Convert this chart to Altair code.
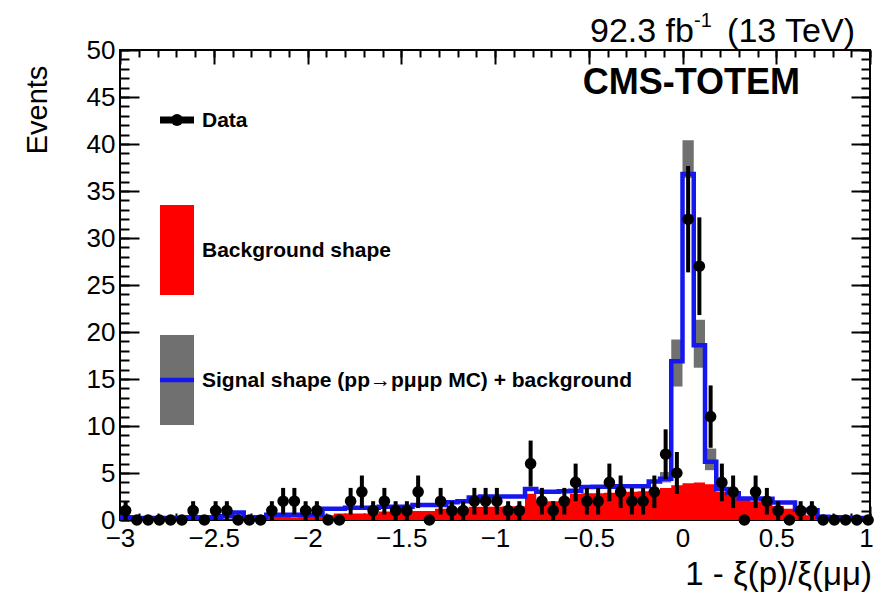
import math
import altair as alt
import pandas as pd

# ---------------- data ----------------
x_start = -3.0
bin_width = 0.06

data_counts = [1, 0, 0, 0, 0, 0, 1, 0, 1, 1, 0, 0, 0, 1, 2, 2, 1, 1, 0, 0, 2, 3, 1, 2, 1,
               1, 3, 0, 2, 1, 1, 2, 2, 2, 1, 1, 6, 2, 1, 2, 4, 2, 2, 4, 3, 2, 2, 3, 7, 5,
               32, 27, 11, 4, 3, 0, 3, 2, 1, 0, 1, 1, 0, 0, 0, 0, 0]

total_shape = [0.3, 0.2, 0.2, 0.2, 0.2, 0.2, 0.3, 0.3, 0.3,
               0.4, 0.8, 0.3, 0.3,
               0.55, 0.55, 0.55, 0.5, 0.5,
               1.2, 1.2, 1.3, 1.3, 1.3, 1.4, 1.4, 1.4, 1.6, 1.6, 1.6,
               1.9, 2.0, 2.4, 2.5, 2.5, 2.5, 2.5, 3.3,
               3.0, 3.0, 3.05, 3.1, 3.5, 3.55, 3.55, 3.6, 3.6, 3.6,
               4.1, 4.4, 16.9, 36.8, 18.6, 6.2, 3.3, 2.85, 2.3, 2.3, 2.25,
               1.85, 1.85, 1.1, 1.05, 0.35, 0.3, 0.25, 0.2, 0.2]

bkg_shape = [0.05, 0.05, 0.05, 0.05, 0.05, 0.05, 0.05, 0.05, 0.05, 0.05, 0.05, 0.05, 0.05,
             0.4, 0.4, 0.3, 0.3, 0.3,
             0.5, 0.7, 0.7, 0.7, 0.7,
             0.9, 0.9, 0.9, 0.95, 0.95,
             1.2, 1.2, 1.25,
             1.4, 1.4, 1.4, 1.45, 1.45,
             2.8, 1.95, 2.0, 2.3,
             2.8, 2.85, 2.85, 2.9, 3.0, 3.0, 3.05,
             3.2, 3.4, 3.7, 3.9, 4.0, 3.8, 3.0, 2.6, 2.2, 2.0, 1.8,
             1.5, 1.2, 0.9, 0.5, 0.3, 0.2, 0.1, 0.1, 0.05]

band_bins = [48, 49, 50, 51, 52]
band_lo = [4.0, 14.2, 36.4, 16.2, 5.3]
band_hi = [5.1, 19.2, 40.4, 21.3, 7.6]

x_major = [-3, -2.5, -2, -1.5, -1, -0.5, 0, 0.5, 1]
x_minor = [round(-3 + 0.1 * i, 2) for i in range(41)]
y_major = [0, 5, 10, 15, 20, 25, 30, 35, 40, 45, 50]
y_minor = list(range(51))

# ---------------- tables ----------------
n = len(data_counts)
edges = [round(x_start + bin_width * i, 2) for i in range(n + 1)]
centers = [round(x_start + bin_width * (i + 0.5), 3) for i in range(n)]

hist = pd.DataFrame({"x": edges,
                     "total": total_shape + [total_shape[-1]],
                     "bkg": bkg_shape + [bkg_shape[-1]]})
pts = pd.DataFrame({"x": centers, "n": data_counts})
pts["lo"] = [c - math.sqrt(c) for c in data_counts]
pts["hi"] = [c + math.sqrt(c) for c in data_counts]
bars = pts[pts["n"] > 0]
band = pd.DataFrame({"x1": [edges[i] for i in band_bins],
                     "x2": [edges[i + 1] for i in band_bins],
                     "lo": band_lo, "hi": band_hi})

W, H = 750, 470
FONT = "Liberation Sans"
xs = alt.Scale(domain=[-3, 1], nice=False, zero=False)
ys = alt.Scale(domain=[0, 50], nice=False, zero=False)
BLUE = "#1616ee"
RED = "#ff0000"
GREY = "#707070"

red = alt.Chart(hist).mark_area(interpolate="step-after", color=RED, clip=True).encode(
    x=alt.X("x:Q", scale=xs, axis=None),
    y=alt.Y("bkg:Q", scale=ys, axis=None),
    y2=alt.datum(0))

grey = alt.Chart(band).mark_rect(color=GREY).encode(
    x=alt.X("x1:Q", scale=xs, axis=None), x2="x2:Q",
    y=alt.Y("lo:Q", scale=ys, axis=None), y2="hi:Q")

blue = alt.Chart(hist).mark_line(interpolate="step-after", color=BLUE, strokeWidth=4.5,
                                 clip=True, strokeJoin="miter").encode(
    x=alt.X("x:Q", scale=xs, axis=None),
    y=alt.Y("total:Q", scale=ys, axis=None))

err = alt.Chart(bars).mark_rule(color="black", strokeWidth=4).encode(
    x=alt.X("x:Q", scale=xs, axis=None),
    y=alt.Y("lo:Q", scale=ys, axis=None), y2="hi:Q")

dots = alt.Chart(pts).mark_circle(color="black", opacity=1, size=135).encode(
    x=alt.X("x:Q", scale=xs, axis=None),
    y=alt.Y("n:Q", scale=ys, axis=None))

# ---------------- axes (ROOT style, ticks inside, mirrored) ----------------
dummy = pd.DataFrame({"x": [0], "y": [0]})
common = dict(grid=False, title=None, domain=False, tickColor="black", tickWidth=2,
              labelColor="black", labelFont=FONT)


def axis_layer(xaxis, yaxis):
    return alt.Chart(dummy).mark_point(opacity=0).encode(
        x=alt.X("x:Q", scale=xs, axis=xaxis),
        y=alt.Y("y:Q", scale=ys, axis=yaxis))


lab_expr = "replace(toString(datum.value), '-', '\u2212')"
axA = axis_layer(
    alt.Axis(orient="bottom", values=x_major, ticks=False, labelFontSize=26, labelPadding=5,
             labelFlush=False, labelOverlap=False, labelExpr=lab_expr,
             labelOffset={"condition": {"test": "datum.value == 1", "value": -4}, "value": 0},
             **common),
    alt.Axis(orient="left", values=y_major, ticks=False, labelFontSize=26, labelPadding=5,
             labelFlush=False, labelOverlap=False, labelBaseline="middle", **common))
axB = axis_layer(
    alt.Axis(orient="bottom", values=x_major, tickSize=14, offset=-14, labels=False, **common),
    alt.Axis(orient="left", values=y_major, tickSize=19, offset=-19, labels=False, **common))
axC = axis_layer(
    alt.Axis(orient="bottom", values=x_minor, tickSize=7, offset=-7, labels=False, **common),
    alt.Axis(orient="left", values=y_minor, tickSize=9, offset=-9, labels=False, **common))
axD = axis_layer(
    alt.Axis(orient="top", values=x_major, tickSize=14, offset=-14, labels=False, **common),
    alt.Axis(orient="right", values=y_major, tickSize=19, offset=-19, labels=False, **common))
axE = axis_layer(
    alt.Axis(orient="top", values=x_minor, tickSize=7, offset=-7, labels=False, **common),
    alt.Axis(orient="right", values=y_minor, tickSize=9, offset=-9, labels=False, **common))

# ---------------- annotations / legend ----------------
L, T = 120, 50  # plot origin in the page


def txt(s, x, y, size, weight="normal", align="left", baseline="alphabetic", angle=0):
    kw = dict(text=s, font=FONT, fontSize=size, fontWeight=weight, align=align,
              baseline=baseline, color="black")
    if angle:
        kw["angle"] = angle
    return alt.Chart(dummy).mark_text(**kw).encode(x=alt.value(x - L), y=alt.value(y - T))


ann = [
    txt("Events", 38, 110, 29, align="center", baseline="middle", angle=270),
    txt("1 - \u03be(p)/\u03be(\u03bc\u03bc)", 872, 585, 33, align="right"),
    txt("92.3 fb", 590, 42, 34),
    txt("-1", 694, 27, 20),
    txt("(13 TeV)", 855, 42, 34, align="right"),
    txt("CMS-TOTEM", 800, 94, 36, weight="bold", align="right"),
    txt("Data", 202, 127, 21, weight="bold"),
    txt("Background shape", 202, 257, 21, weight="bold"),
    txt("Signal shape (pp\u2192p\u03bc\u03bcp MC) + background", 202, 387, 21, weight="bold"),
]

leg_data_bar = alt.Chart(dummy).mark_rule(color="black", strokeWidth=7).encode(
    x=alt.value(160 - L), x2=alt.value(194 - L), y=alt.value(120 - T))
leg_data_dot = alt.Chart(dummy).mark_circle(color="black", opacity=1, size=140).encode(
    x=alt.value(177 - L), y=alt.value(120 - T))
leg_red = alt.Chart(dummy).mark_rect(color=RED).encode(
    x=alt.value(160 - L), x2=alt.value(194 - L), y=alt.value(205 - T), y2=alt.value(295 - T))
leg_grey = alt.Chart(dummy).mark_rect(color=GREY).encode(
    x=alt.value(160 - L), x2=alt.value(194 - L), y=alt.value(335 - T), y2=alt.value(425 - T))
leg_blue = alt.Chart(dummy).mark_rule(color=BLUE, strokeWidth=4.5).encode(
    x=alt.value(160 - L), x2=alt.value(194 - L), y=alt.value(380 - T))

chart = alt.layer(
    red, grey, blue, err, dots,
    axA, axB, axC, axD, axE,
    leg_data_bar, leg_data_dot, leg_red, leg_grey, leg_blue,
    *ann,
).resolve_axis(x="independent", y="independent").properties(
    width=W, height=H,
    padding={"left": L, "top": T, "right": 876 - L - W, "bottom": 593 - T - H},
    autosize=alt.AutoSizeParams(type="none"),
    background="white",
).configure_view(stroke="black", strokeWidth=2)

chart.save("out.html", embed_options={"renderer": "svg", "actions": False})
